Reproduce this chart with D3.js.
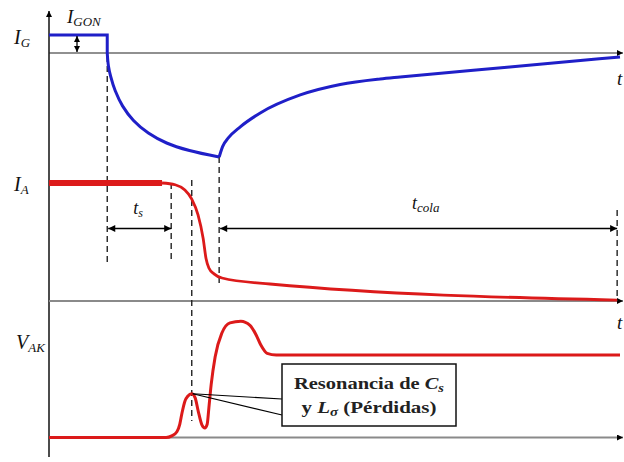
<!DOCTYPE html>
<html>
<head>
<meta charset="utf-8">
<script src="https://cdn.jsdelivr.net/npm/d3@7"></script>
<style>
  html, body { margin: 0; background: #fff; }
  svg { display: block; }
</style>
</head>
<body>
<svg id="chart" width="624" height="462"></svg>
<script>
// Time axis in arbitrary units (0 .. 100)
const timeDomain = [0, 100];

// Event instants on the time axis
const tGateOff = 10.2;   // gate current reversed
const tStoreEnd = 21.4;  // end of storage time t_s
const tVakPeak = 25.0;   // first V_AK resonance peak
const tGateMin = 29.8;   // gate current minimum / start of tail
const tTailEnd = 99.5;   // end of tail time t_cola

// Gate current I_G (units of I_GON)
const igOn = [[0, 1], [10.2, 1], [10.2, 0]];
const igFall = [[10.2, 0], [10.4, -0.7], [10.8, -1.3], [11.6, -2.1], [12.9, -2.95],
                [14.8, -3.75], [17.4, -4.45], [20.6, -5.0], [24.6, -5.42], [29.8, -5.78]];
const igRise = [[29.8, -5.78], [30.4, -5.2], [31.4, -4.72], [33.5, -4.1], [37.0, -3.33],
                [44.0, -2.33], [51.0, -1.75], [58.0, -1.44], [61.5, -1.33], [80.7, -0.78],
                [100, -0.22]];

// Anode current I_A (normalised)
const iaOn = [[0, 1], [19.8, 1]];
const iaFall = [[19.8, 1], [22.1, 0.985], [23.8, 0.94], [25.0, 0.864], [26.1, 0.73],
                [27.0, 0.53], [27.5, 0.36], [28.0, 0.28], [28.9, 0.23], [30.3, 0.195],
                [38.7, 0.144], [99.5, 0.008]];

// Anode-cathode voltage V_AK (normalised to its final value)
const vak = [[0, 0], [20.5, 0], [21.5, 0.02], [22.4, 0.07], [22.9, 0.16], [23.3, 0.30],
             [23.8, 0.44], [24.3, 0.50], [25.0, 0.53], [25.6, 0.48], [26.1, 0.33],
             [26.8, 0.15], [27.3, 0.115], [27.7, 0.16], [28.0, 0.36], [28.4, 0.64],
             [29.1, 0.98], [30.3, 1.27], [31.7, 1.39], [33.6, 1.41], [35.2, 1.36],
             [36.3, 1.24], [37.1, 1.12], [38.2, 1.02], [39.8, 1.0], [100, 1.0]];

// Text labels
const axisLabels = [
  { main: "I", sub: "G", panel: "G" },
  { main: "I", sub: "A", panel: "A" },
  { main: "V", sub: "AK", panel: "V" }
];
const noteLines = ["Resonancia de ", "y "];

const serif = '"Liberation Serif", "Times New Roman", serif';
const svg = d3.select("#chart");
const blue = "#1f1fc8";
const red = "#dc1a1a";

const x = d3.scaleLinear().domain(timeDomain).range([49, 620]);
const yG = d3.scaleLinear().domain([0, 1]).range([53, 35]);
const yA = d3.scaleLinear().domain([0, 1]).range([301, 183]);
const yV = d3.scaleLinear().domain([0, 1]).range([437.5, 355]);

// Arrowhead markers
const defs = svg.append("defs");
function marker(id, w, h) {
  defs.append("marker")
    .attr("id", id)
    .attr("viewBox", "0 0 10 10")
    .attr("refX", 10).attr("refY", 5)
    .attr("markerWidth", w).attr("markerHeight", h)
    .attr("markerUnits", "userSpaceOnUse")
    .attr("orient", "auto-start-reverse")
    .append("path").attr("d", "M0,0L10,5L0,10Z").attr("fill", "#000");
}
marker("arr", 10, 7);
marker("arrSmall", 7, 6);

// Vertical axis
svg.append("line")
  .attr("x1", x(0)).attr("x2", x(0))
  .attr("y1", 457).attr("y2", 11)
  .attr("stroke", "#111").attr("stroke-width", 1.5)
  .attr("marker-end", "url(#arrSmall)");

// Time baselines of each panel
svg.append("line")
  .attr("x1", x(0)).attr("x2", x(100) + 3)
  .attr("y1", yG(0)).attr("y2", yG(0))
  .attr("stroke", "#222").attr("stroke-width", 1.2)
  .attr("marker-end", "url(#arrSmall)");
[yA(0), yV(0)].forEach(yy => {
  svg.append("line")
    .attr("x1", x(0)).attr("x2", x(100) + 3)
    .attr("y1", yy).attr("y2", yy)
    .attr("stroke", "#8a8a8a").attr("stroke-width", 2)
    .attr("marker-end", "url(#arrSmall)");
});

// Dashed markers of the switching instants
const dashed = [
  [tGateOff, yG(0) + 3, 262],
  [tStoreEnd, yA(1), 262],
  [tVakPeak, yA(1) - 3, yV(0.2)],
  [tGateMin, yG(-5.78), 285],
  [tTailEnd, 210, yA(0)]
];
svg.append("g").selectAll("line").data(dashed).join("line")
  .attr("x1", d => x(d[0])).attr("x2", d => x(d[0]))
  .attr("y1", d => d[1]).attr("y2", d => d[2])
  .attr("stroke", "#222").attr("stroke-width", 1.4)
  .attr("stroke-dasharray", "6,4");

// Curves
const lineLin = d3.line().x(d => x(d[0]));
const lineSmooth = d3.line().x(d => x(d[0])).curve(d3.curveMonotoneX);
const lineRound = d3.line().x(d => x(d[0])).curve(d3.curveCatmullRom.alpha(0.5));

svg.append("path")
  .attr("d", lineLin.y(d => yG(d[1]))(igOn))
  .attr("fill", "none").attr("stroke", blue).attr("stroke-width", 3);
svg.append("path")
  .attr("d", lineRound.y(d => yG(d[1]))(igFall))
  .attr("fill", "none").attr("stroke", blue).attr("stroke-width", 3);
svg.append("path")
  .attr("d", lineSmooth.y(d => yG(d[1]))(igRise))
  .attr("fill", "none").attr("stroke", blue).attr("stroke-width", 3);

svg.append("path")
  .attr("d", lineSmooth.y(d => yA(d[1]))(iaFall))
  .attr("fill", "none").attr("stroke", red).attr("stroke-width", 2.8);
svg.append("path")
  .attr("d", lineLin.y(d => yA(d[1]))(iaOn))
  .attr("fill", "none").attr("stroke", red).attr("stroke-width", 6);

svg.append("path")
  .attr("d", lineSmooth.y(d => yV(d[1]))(vak))
  .attr("fill", "none").attr("stroke", red).attr("stroke-width", 3)
  .attr("stroke-linejoin", "round");

// Interval arrows t_s and t_cola
const yInt = 228.5;
[[tGateOff, tStoreEnd], [tGateMin, tTailEnd]].forEach(([a, b]) => {
  svg.append("line")
    .attr("x1", x(a) + 1).attr("x2", x(b))
    .attr("y1", yInt).attr("y2", yInt)
    .attr("stroke", "#000").attr("stroke-width", 1.3)
    .attr("marker-start", "url(#arr)").attr("marker-end", "url(#arr)");
});

// I_GON double arrow
svg.append("line")
  .attr("x1", 77).attr("x2", 77)
  .attr("y1", yG(1) + 1).attr("y2", yG(0) - 1)
  .attr("stroke", "#000").attr("stroke-width", 1.3)
  .attr("marker-start", "url(#arrSmall)").attr("marker-end", "url(#arrSmall)");

// Labels with subscripts
function subLabel(px, py, main, sub, size, subSize) {
  const t = svg.append("text").attr("x", px).attr("y", py)
    .style("font-family", serif).style("font-style", "italic")
    .attr("font-size", size).attr("fill", "#111");
  t.append("tspan").text(main);
  t.append("tspan").attr("font-size", subSize).attr("dy", 3).text(sub);
  return t;
}
const labelPos = { G: [14, 44], A: [14, 191], V: [16, 349] };
axisLabels.forEach(l => {
  const p = labelPos[l.panel];
  subLabel(p[0], p[1], l.main, l.sub, 20, 13);
});
subLabel(67, 23, "I", "GON", 19, 13);
subLabel(x(15.8) - 6, 214, "t", "s", 18, 12);
subLabel(412, 209, "t", "cola", 18, 13);

// Time axis labels
[yG(0) + 32, yA(0) + 28].forEach(yy => {
  svg.append("text").attr("x", 617).attr("y", yy)
    .style("font-family", serif).style("font-style", "italic")
    .attr("font-size", 19).attr("fill", "#111").text("t");
});

// Resonance note box with leader lines
const box = { x0: 282, y0: 364, x1: 456, y1: 426 };
const peak = [x(tVakPeak) + 1, yV(0.53)];
svg.append("line").attr("x1", peak[0]).attr("y1", peak[1]).attr("x2", box.x0).attr("y2", 399)
  .attr("stroke", "#000").attr("stroke-width", 1.2);
svg.append("line").attr("x1", peak[0]).attr("y1", peak[1]).attr("x2", box.x0).attr("y2", 415)
  .attr("stroke", "#000").attr("stroke-width", 1.2);
svg.append("rect")
  .attr("x", box.x0).attr("y", box.y0)
  .attr("width", box.x1 - box.x0).attr("height", box.y1 - box.y0)
  .attr("fill", "#fff").attr("stroke", "#111").attr("stroke-width", 1.5);

const cx = (box.x0 + box.x1) / 2;
const l1 = svg.append("text").attr("x", cx).attr("y", 389)
  .style("font-family", serif).style("font-weight", "bold")
  .attr("text-anchor", "middle").attr("font-size", 17).attr("fill", "#222")
  .attr("textLength", 150).attr("lengthAdjust", "spacingAndGlyphs");
l1.append("tspan").text(noteLines[0]);
l1.append("tspan").style("font-style", "italic").text("C");
l1.append("tspan").style("font-style", "italic").attr("font-size", 12).attr("dy", 3).text("s");

const l2 = svg.append("text").attr("x", cx).attr("y", 413)
  .style("font-family", serif).style("font-weight", "bold")
  .attr("text-anchor", "middle").attr("font-size", 17).attr("fill", "#222")
  .attr("textLength", 135).attr("lengthAdjust", "spacingAndGlyphs");
l2.append("tspan").text(noteLines[1]);
l2.append("tspan").style("font-style", "italic").text("L");
l2.append("tspan").style("font-style", "italic").attr("font-size", 12).attr("dy", 3).text("σ");
l2.append("tspan").attr("dy", -3).text(" (Pérdidas)");
</script>
</body>
</html>
